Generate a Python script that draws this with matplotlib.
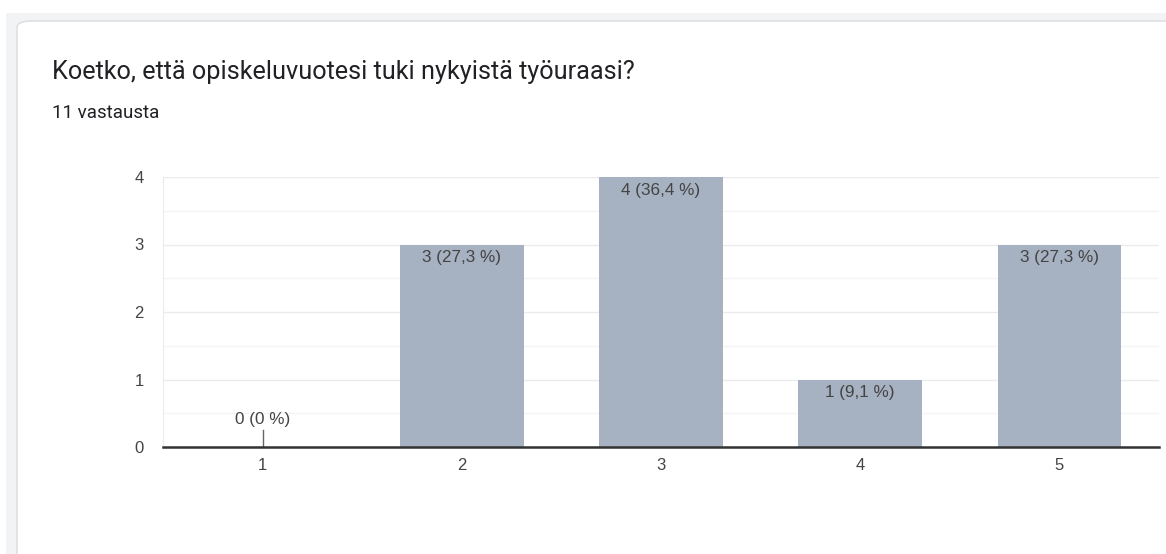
import numpy as np
import matplotlib.pyplot as plt
from matplotlib.patches import Rectangle, FancyBboxPatch

title = "Koetko, että opiskeluvuotesi tuki nykyistä työuraasi?"
subtitle = "11 vastausta"
categories = ["1", "2", "3", "4", "5"]
counts = [0, 3, 4, 1, 3]
bar_labels = ["0 (0 %)", "3 (27,3 %)", "4 (36,4 %)", "1 (9,1 %)", "3 (27,3 %)"]

W, H = 1166, 554
fig = plt.figure(figsize=(W / 100, H / 100), dpi=100)
fig.patch.set_facecolor("white")

# page background and card
fig.patches.append(Rectangle((6 / W, 0), 1, 1 - 13 / H, transform=fig.transFigure,
                             facecolor="#f1f3f4", edgecolor="none", zorder=0))
fig.patches.append(FancyBboxPatch((17 / W, -0.1), 1.2, 1 - 21 / H + 0.1,
                                  boxstyle="round,pad=0,rounding_size=0.012",
                                  transform=fig.transFigure, facecolor="white",
                                  edgecolor="#dadce0", linewidth=1, zorder=0.5))

fig.text(52 / W, 1 - 72 / H, title, fontsize=18.2, family="Roboto", color="#202124", va="center")
fig.text(52 / W, 1 - 113 / H, subtitle, fontsize=13.5, family="Roboto", color="#202124", va="center")

ax = fig.add_axes([163 / W, 107 / H, 996 / W, 270 / H])
ax.set_zorder(2)
x = np.arange(len(categories))
ax.bar(x, counts, width=0.62, color="#a6b1c1", zorder=2)

for xi, c, lab in zip(x, counts, bar_labels):
    if c == 0:
        ax.plot([xi, xi], [0, 0.25], color="#666666", lw=1, zorder=3)
        ax.text(xi, 0.3, lab, ha="center", va="bottom", fontsize=12.3,
                family="Liberation Sans", color="#444444")
    else:
        ax.annotate(lab, (xi, c), xytext=(0, -4), textcoords="offset points",
                    ha="center", va="top", fontsize=12.3, family="Liberation Sans",
                    color="#444444")

ax.set_xlim(-0.5, 4.5)
ax.set_ylim(0, 4)
ax.set_xticks(x)
ax.set_xticklabels(categories)
ax.set_yticks([0, 1, 2, 3, 4])
ax.set_yticks([0.5, 1.5, 2.5, 3.5], minor=True)
ax.grid(axis="y", which="major", color="#ebebeb", lw=1, zorder=0)
ax.grid(axis="y", which="minor", color="#f4f4f4", lw=1, zorder=0)
ax.tick_params(length=0, labelsize=12, labelcolor="#444444", pad=14, which="both")
ax.tick_params(axis="x", pad=8)
for t in ax.get_xticklabels() + ax.get_yticklabels():
    t.set_family("Liberation Sans")
for s in ["top", "right"]:
    ax.spines[s].set_visible(False)
ax.spines["left"].set_color("#ebebeb")
ax.spines["bottom"].set_color("#333333")
ax.spines["bottom"].set_linewidth(1.8)
ax.spines["bottom"].set_zorder(4)

plt.savefig("out.png", dpi=100)
